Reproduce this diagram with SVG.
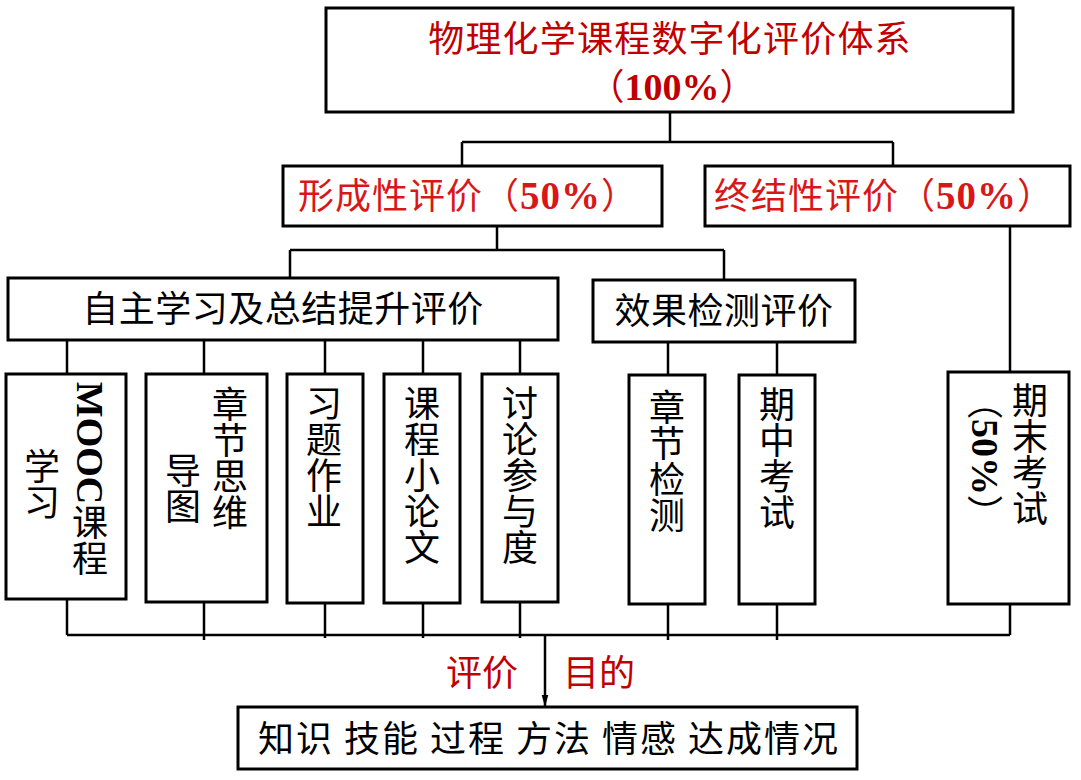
<svg xmlns="http://www.w3.org/2000/svg" width="1081" height="780" viewBox="0 0 1081 780">
<defs>
<style>
.box{fill:#fff;stroke:#000;stroke-width:3}
.ln{fill:none;stroke:#000;stroke-width:2.5}
.t{font-family:"Noto Sans CJK SC","Liberation Sans",sans-serif;font-size:36px;fill:#000}
.red{fill:#d81818}
.dred{fill:#c00000}
.num{font-family:"Liberation Serif",serif;font-weight:bold}
.v{font-family:"Noto Sans CJK SC","Liberation Sans",sans-serif;font-size:36px;fill:#000;writing-mode:vertical-rl;text-anchor:middle}
</style>
<marker id="ah" markerWidth="12" markerHeight="20" refX="20" refY="5.5" orient="auto" markerUnits="userSpaceOnUse" viewBox="0 0 20 11">
<path d="M0,0 L20,5.5 L0,11 Z" fill="#000"/>
</marker>
</defs>
<rect width="1081" height="780" fill="#fff"/>
<g id="connectors">
<path class="ln" d="M670,112 V142 M462,142 H893 M462,142 V166 M893,142 V166"/>
<path class="ln" d="M497,226 V250 M290,250 H724 M290,250 V278 M724,250 V280"/>
<path class="ln" d="M1010,226 V372"/>
<path class="ln" d="M67,340 V374 M204,340 V374 M325,340 V374 M423,340 V374 M520,340 V374 M668,342 V375 M777,342 V375"/>
<path class="ln" stroke-width="2" d="M67,599 V635 M204,602 V640 M325,603 V638 M423,603 V638 M520,602 V638 M668,604 V640 M777,604 V640 M1010,604 V635 M67,635 H1010"/>
<path class="ln" stroke-width="2" d="M545,635 V707" marker-end="url(#ah)"/>
</g>
<g id="root">
<rect class="box" x="326" y="8" width="687" height="104"/>
<text class="t dred" x="670" y="52" text-anchor="middle" font-size="37" letter-spacing="1.2">物理化学课程数字化评价体系</text>
<text class="t dred" x="672" y="100" text-anchor="middle" font-size="36">（<tspan class="num" font-size="38">100%</tspan>）</text>
</g>
<g id="formative">
<rect class="box" x="283" y="166" width="379" height="60"/>
<text class="t red" x="468" y="209" text-anchor="middle" font-size="37" letter-spacing="1">形成性评价（<tspan class="num" font-size="39">50%</tspan>）</text>
</g>
<g id="summative">
<rect class="box" x="705" y="166" width="365" height="60"/>
<text class="t red" x="884" y="209" text-anchor="middle" font-size="37" letter-spacing="1">终结性评价（<tspan class="num" font-size="39">50%</tspan>）</text>
</g>
<g id="self-study">
<rect class="box" x="8" y="278" width="550" height="62"/>
<text class="t" x="283" y="322" text-anchor="middle" font-size="37" letter-spacing="0.5">自主学习及总结提升评价</text>
</g>
<g id="effect-test">
<rect class="box" x="593" y="280" width="262" height="62"/>
<text class="t" x="724" y="324" text-anchor="middle" font-size="37" letter-spacing="0.5">效果检测评价</text>
</g>
<g id="mooc">
<rect class="box" x="6" y="374" width="120" height="225"/>
<text class="v" x="90" y="479"><tspan class="num" font-size="38">MOOC</tspan>课程</text>
<text class="v" x="42" y="484">学习</text>
</g>
<g id="mindmap">
<rect class="box" x="146" y="374" width="121" height="228"/>
<text class="v" x="230" y="458">章节思维</text>
<text class="v" x="183" y="488">导图</text>
</g>
<g id="homework">
<rect class="box" x="287" y="374" width="76" height="229"/>
<text class="v" x="324" y="457">习题作业</text>
</g>
<g id="paper">
<rect class="box" x="384" y="374" width="76" height="229"/>
<text class="v" x="422" y="475">课程小论文</text>
</g>
<g id="discussion">
<rect class="box" x="482" y="374" width="76" height="228"/>
<text class="v" x="520" y="475">讨论参与度</text>
</g>
<g id="chapter-test">
<rect class="box" x="629" y="375" width="76" height="229"/>
<text class="v" x="667" y="461">章节检测</text>
</g>
<g id="midterm">
<rect class="box" x="739" y="375" width="76" height="229"/>
<text class="v" x="777" y="458">期中考试</text>
</g>
<g id="final">
<rect class="box" x="948" y="372" width="121" height="232"/>
<text class="v red" x="1030" y="454">期末考试</text>
<text class="v red" x="985" y="457">（<tspan class="num" font-size="38">50%</tspan>）</text>
</g>
<g id="purpose-label">
<text class="t dred" x="482" y="686" text-anchor="middle">评价</text>
<text class="t dred" x="599" y="686" text-anchor="middle">目的</text>
</g>
<g id="outcome">
<rect class="box" x="238" y="707" width="619" height="62"/>
<text class="t" x="258" y="752" font-size="34" textLength="580" lengthAdjust="spacing">知识 技能 过程 方法 情感 达成情况</text>
</g>
</svg>
